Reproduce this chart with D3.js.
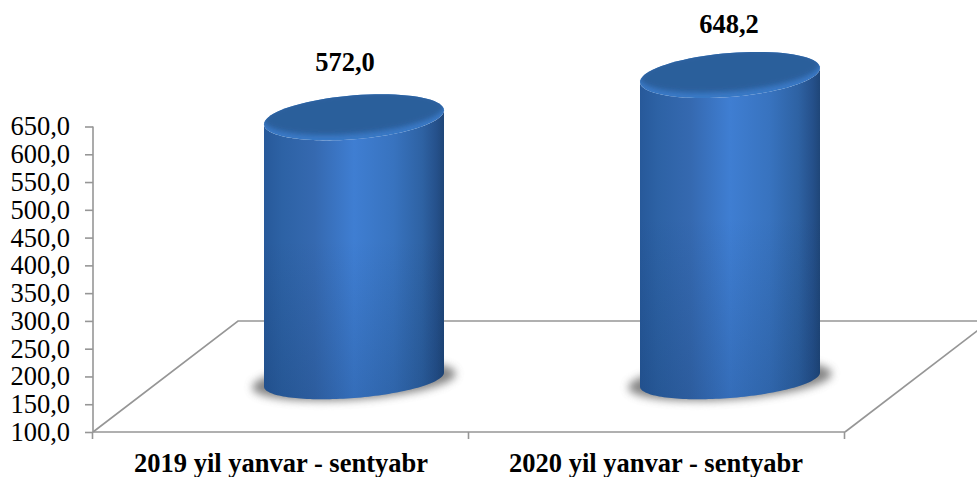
<!DOCTYPE html>
<html><head><meta charset="utf-8">
<script src="https://cdn.jsdelivr.net/npm/d3@7"></script>
<style>html,body{margin:0;padding:0;background:#fff;overflow:hidden}svg{display:block}
text{font-family:"Liberation Serif","Times New Roman",serif;fill:#000}</style></head>
<body><div id="chart"></div>
<script>
const categories = ["2019 yil yanvar - sentyabr", "2020 yil yanvar - sentyabr"];
const values = [572.0, 648.2];
const valueLabels = ["572,0", "648,2"];
const tickValues = [100,150,200,250,300,350,400,450,500,550,600,650];
const tickLabels = ["100,0","150,0","200,0","250,0","300,0","350,0","400,0","450,0","500,0","550,0","600,0","650,0"];

const W=977,H=477;
const svg=d3.select("#chart").append("svg").attr("width",W).attr("height",H);
const x0=93,x1=845,yB=432,yT=126.5,dX=145,dY=111;
const y=d3.scaleLinear().domain([100,650]).range([yB,yT]);
const x=d3.scaleBand().domain(categories).range([x0,x1]);
const gray="#969696";
const defs=svg.append("defs");

const hg=defs.append("linearGradient").attr("id","body");
[[0,"#27599a"],[.1,"#2d62a5"],[.28,"#3569b0"],[.5,"#3f7ed2"],[.72,"#3873bf"],[.88,"#2e62a3"],[.96,"#25508a"],[1,"#1f4678"]]
 .forEach(s=>hg.append("stop").attr("offset",s[0]).attr("stop-color",s[1]));
const vg=defs.append("linearGradient").attr("id","shade").attr("x1",0).attr("x2",0).attr("y1",0).attr("y2",1);
[[0,0],[.45,0],[1,.2]].forEach(s=>vg.append("stop").attr("offset",s[0]).attr("stop-color","#0a2a55").attr("stop-opacity",s[1]));
defs.append("filter").attr("id","blur").attr("x","-20%").attr("y","-40%").attr("width","140%").attr("height","180%")
  .append("feGaussianBlur").attr("stdDeviation",4);
defs.append("filter").attr("id","blur2").attr("x","-20%").attr("y","-40%").attr("width","140%").attr("height","180%")
  .append("feGaussianBlur").attr("stdDeviation",2.5);
defs.append("filter").attr("id","soft").append("feGaussianBlur").attr("stdDeviation",0.5);

// floor
const floor=svg.append("g").attr("fill","none").attr("stroke",gray).attr("stroke-width",1.6);
floor.append("path").attr("d",d3.line()([[x0,yB],[x0+dX,yB-dY],[W+5,yB-dY]]));
floor.append("path").attr("d",d3.line()([[x1,yB],[x1+dX,yB-dY]]));

// axes
const yAxis=d3.axisLeft(y).tickValues(tickValues).tickSize(8).tickFormat((d,i)=>tickLabels[i]);
const gy=svg.append("g").attr("transform",`translate(${x0},0)`).call(yAxis);
gy.selectAll("line,path").attr("stroke",gray).attr("stroke-width",1.6);
gy.select(".domain").attr("d",`M0,${yT}V${yB}`);
gy.selectAll("text").attr("x",-23).attr("dy","0.32em").attr("text-anchor","end").style("font-size","26.5px").style("font-family",'"Liberation Serif"');
const xAxis=d3.axisBottom(d3.scaleLinear().domain([0,2]).range([x0,x1])).tickValues([0,1,2]).tickSize(7).tickFormat("");
const gx=svg.append("g").attr("transform",`translate(0,${yB})`).call(xAxis);
gx.selectAll("line,path").attr("stroke",gray).attr("stroke-width",1.6);
gx.select(".domain").attr("d",`M${x0},0H${x1}`);
gx.selectAll(".tick line").attr("transform","translate(-1,0)");

// cylinders
const a=90,b=-7,cTop=22,cBot=18.5,lift=52.5,shiftX=73;
const ell=(cx,cy,c,t0,t1,n=80)=>d3.range(n+1).map(i=>{const t=t0+(t1-t0)*i/n;
  return [cx+a*Math.cos(t),cy+b*Math.cos(t)+c*Math.sin(t)];});
const line=d3.line();
categories.forEach((cat,i)=>{
  const cx=x(cat)+x.bandwidth()/2+shiftX;
  const yBot=y(100)-lift, yTop=y(values[i])-lift;
  const g=svg.append("g");
  // shadow
  g.append("ellipse").attr("cx",cx).attr("cy",yBot+1).attr("rx",a+12).attr("ry",19)
    .attr("transform",`rotate(-4 ${cx} ${yBot+1})`)
    .attr("fill","#666").attr("opacity",.8).attr("filter","url(#blur)");
  // body
  const bodyPts=[...ell(cx,yBot,cBot,Math.PI,0),...ell(cx,yTop,cTop,0,Math.PI)];
  g.append("path").attr("d",line(bodyPts)+"Z").attr("fill","url(#body)");
  g.append("path").attr("d",line(bodyPts)+"Z").attr("fill","url(#shade)");
  // top
  g.append("path").attr("d",line(ell(cx,yTop,cTop,0,2*Math.PI))+"Z").attr("fill","#3a79c6");
  const clip="c"+i;
  defs.append("clipPath").attr("id",clip).append("path").attr("d",line(ell(cx,yTop,cTop,0,2*Math.PI))+"Z");
  g.append("g").attr("clip-path",`url(#${clip})`).append("path")
    .attr("d",line(ell(cx,yTop-4,cTop-1.5,0,2*Math.PI))+"Z").attr("fill","#2b5e9b").attr("filter","url(#blur2)");
  // value label
  svg.append("text").attr("x",cx+(i?-1:-9)).attr("y",yTop-(i?41.5:46.5)).attr("text-anchor","middle")
    .attr("font-weight","bold").style("font-size","26.5px").text(valueLabels[i]);
  // category label
  svg.append("text").attr("x",x(cat)+x.bandwidth()/2-(i?1:0)).attr("y",472).attr("text-anchor","middle")
    .attr("font-weight","bold").style("font-size","26.5px").text(cat);
});
</script></body></html>
